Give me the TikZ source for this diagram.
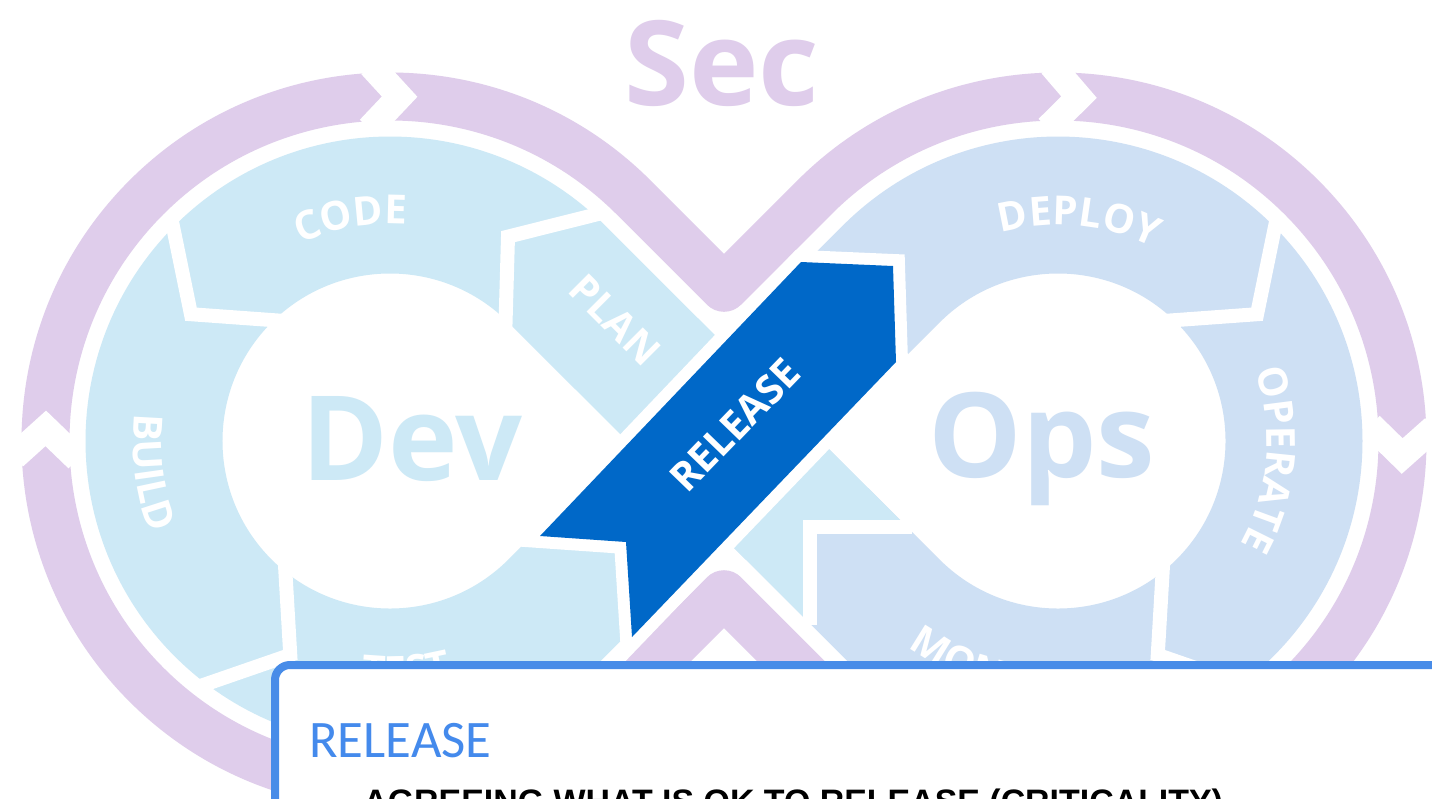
\documentclass[tikz,border=0pt]{standalone}
\usepackage{fontspec}
\usetikzlibrary{calc,decorations.text}
\newfontfamily\opensans{Open Sans}
\newfontfamily\carlito{Carlito}
\newfontfamily\libsans{Liberation Sans}
\newcommand\lblfont{\opensans\bfseries\fontsize{22.8pt}{24pt}\selectfont}
\newcommand\bigword{\opensans\bfseries\fontsize{67pt}{70pt}\selectfont}
\newcommand\boxtitlefont{\carlito\fontsize{30pt}{32pt}\selectfont}
\newcommand\boxbodyfont{\libsans\bfseries\fontsize{19.3pt}{22pt}\selectfont}
\definecolor{secpurple}{RGB}{223,205,235}
\definecolor{devblue}{RGB}{205,233,246}
\definecolor{opsblue}{RGB}{206,224,244}
\definecolor{relblue}{RGB}{0,104,200}
\definecolor{boxblue}{RGB}{72,140,232}
\definecolor{titleblue}{RGB}{68,138,236}
\begin{document}
\begin{tikzpicture}[x=0.02cm, y=-0.02cm,
  band/.style={line width=2.74cm, line cap=butt, line join=round},
  outline/.style={draw=secpurple, line width=0.96cm, line join=round},
  gapline/.style={draw=white, line width=0.28cm, line join=miter, line cap=butt},
  outergap/.style={draw=white, line width=0.52cm, line join=miter, line cap=butt},
  arclabel/.style={decorate, decoration={text along path, text align=center, text color=white, text={|\lblfont|#1}}},
  stamp/.style={font=\lblfont, text=white, inner sep=0}]
\useasboundingbox (0,0) rectangle (1432,798);
\clip (0,0) rectangle (1432,798);
\fill[white] (0,0) rectangle (1432,798);

\coordinate (C1) at (390,441);
\coordinate (C2) at (1058,441);
\coordinate (X) at (724,441);

% heading word above the loop
\node[font=\bigword, text=secpurple, anchor=base] (sec) at (722,105) {Sec};

% outer security band around the whole infinity shape
\draw[outline] (724,287.8) -- (633.6,197.4)
  arc[start angle=315, end angle=45, radius=344.5] -- (724,594.2) -- (814.4,684.6)
  arc[start angle=135, end angle=-135, radius=344.5] -- cycle;
% arrow breaks in the outer band (flow clockwise)
\foreach \t in {271.6,182.1}
  \draw[outergap] ($(C1)+(\t-4.5:376)$) -- ($(C1)+(\t:344.5)$) -- ($(C1)+(\t-5.4:313)$);
\foreach \t in {273.5,2.5}
  \draw[outergap] ($(C2)+(\t-4.5:376)$) -- ($(C2)+(\t:344.5)$) -- ($(C2)+(\t-5.4:313)$);

% Ops loop band
\draw[band, draw=opsblue] (X) -- ($(C2)+(225:236)$)
  arc[start angle=225, end angle=495, radius=236] -- (X);
% Dev loop band, starting at the Monitor/Plan chevron
\begin{scope}
  \clip (0,0) -- (1432,0) -- (1432,527) -- (810,527) -- (810,798) -- (0,798) -- cycle;
  \draw[band, draw=devblue] ($(C2)+(135:236)$) -- ($(C1)+(315:236)$)
    arc[start angle=315, end angle=45, radius=236] -- (X);
\end{scope}

% chevron gaps between the stages
\foreach \t in {300,212.5,115}
  \draw[gapline] ($(C1)+(\t+13:312)$) -- ($(C1)+(\t:236)$) -- ($(C1)+(\t+20:150)$);
\foreach \t in {327.5,65}
  \draw[gapline] ($(C2)+(\t-13:312)$) -- ($(C2)+(\t:236)$) -- ($(C2)+(\t-20:150)$);
\draw[gapline] (912,527) -- (810,527) -- (810,625);

% big loop words
\node[font=\bigword, text=devblue, anchor=base] (dev) at (412,480) {Dev};
\node[font=\bigword, text=opsblue, anchor=base] (ops) at (1042,477) {Ops};

% stage labels
\path[arclabel=CODE] ($(C1)+(225:217)$) arc[start angle=225, end angle=295, radius=217];
\path[arclabel=BUILD] ($(C1)+(207:257)$) arc[start angle=207, end angle=138, radius=257];
\path[arclabel=TEST] ($(C1)+(126:244)$) arc[start angle=126, end angle=46, radius=244];
\path[arclabel=DEPLOY] ($(C2)+(235:216)$) arc[start angle=235, end angle=316, radius=216];
\path[arclabel=OPERATE] ($(C2)+(-40:209)$) arc[start angle=-40, end angle=50, radius=209];
\path[arclabel=MONITOR] ($(C2)+(148:255)$) arc[start angle=148, end angle=60, radius=255];
\node[stamp, rotate=-45] (plan) at (615,320) {PLAN};

% highlighted release ribbon
\draw[white, line width=0.48cm, line join=miter]
  (801,262) -- (893,266) -- (896,362) -- (632,637) -- (626,542) -- (540,536) -- cycle;
\fill[relblue] (801,262) -- (893,266) -- (896,362) -- (632,637) -- (626,542) -- (540,536) -- cycle;
\node[stamp, rotate=46] (release) at (735,425) {RELEASE};

% description card
\draw[draw=boxblue, line width=0.16cm, fill=white, rounded corners=0.3cm]
  (275,665) rectangle (1480,900);
\node[font=\boxtitlefont, text=titleblue, anchor=base west, inner sep=0] (title) at (309,757) {RELEASE};
\node[font=\boxbodyfont, text=black, anchor=base west, inner sep=0] (body) at (363,813)
  {AGREEING WHAT IS OK TO RELEASE (CRITICALITY)};
\end{tikzpicture}
\end{document}
